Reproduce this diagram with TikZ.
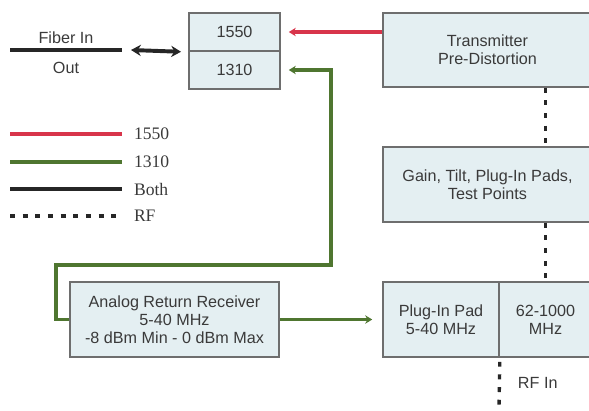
\documentclass[tikz,border=0pt]{standalone}
\usepackage{fontspec}
\setmainfont{Liberation Sans}
\newfontfamily\legendfont{Liberation Serif}
\usetikzlibrary{arrows.meta}
\definecolor{boxfill}{HTML}{E4EFF2}
\definecolor{boxline}{HTML}{6E6E6E}
\definecolor{txtgray}{HTML}{3A3A3A}
\definecolor{redline}{HTML}{D8354B}
\definecolor{grnline}{HTML}{4F7630}
\tikzset{
  blk/.style={draw=boxline,line width=1.1pt,fill=boxfill,text=txtgray,align=center,inner sep=1pt,font=\fontsize{11.5}{13}\selectfont},
  redln/.style={draw=redline,line width=2.5pt},
  grnln/.style={draw=grnline,line width=2.5pt},
  bothln/.style={draw=black!85,line width=2.5pt},
  rf/.style={draw=black!85,line width=2.4pt,dash pattern=on 3.5pt off 5.5pt},
  lbl/.style={text=txtgray,font=\fontsize{11.5}{13}\selectfont},
  leg/.style={text=txtgray,font=\legendfont\fontsize{12.5}{14}\selectfont,anchor=west}
}
\begin{document}
\begin{tikzpicture}[x=0.025cm,y=-0.025cm,>={Stealth[length=5pt,width=6pt]}]
\useasboundingbox (0,0) rectangle (589,410);
% boxes
\node[blk,minimum width=91*0.025cm,minimum height=38*0.025cm] (b1550) at (234.5,32) {1550};
\node[blk,minimum width=91*0.025cm,minimum height=38*0.025cm] (b1310) at (234.5,70) {1310};
\node[blk,minimum width=209*0.025cm,minimum height=74*0.025cm] (tx) at (487.5,50) {Transmitter\\Pre-Distortion};
\node[blk,minimum width=209*0.025cm,minimum height=75*0.025cm] (gain) at (487.5,184.5) {Gain, Tilt, Plug-In Pads,\\Test Points};
\node[blk,minimum width=209*0.025cm,minimum height=75*0.025cm] (rx) at (174.5,319.5) {Analog Return Receiver\\5-40 MHz\\-8 dBm Min - 0 dBm Max};
\node[blk,minimum width=116*0.025cm,minimum height=75*0.025cm] (pad) at (441,319.5) {Plug-In Pad\\5-40 MHz};
\node[blk,minimum width=93*0.025cm,minimum height=75*0.025cm] (hf) at (545.5,319.5) {62-1000\\MHz};
% fiber in/out
\coordinate (fa) at (10,50);
\coordinate (fb) at (122,50);
\coordinate (da) at (131,50);
\draw[bothln] (fa) -- (fb) node[lbl,midway,above=0pt] (fin) {Fiber In} node[lbl,midway,below=4pt] (fout) {Out};
\draw[bothln,line width=2.8pt,{Stealth[length=7pt,width=8pt]}-{Stealth[length=7pt,width=8pt]}] (da) -- ([xshift=-1.8mm]b1550.south west);
% optical links
\draw[redln,->] (tx.west |- b1550.east) -- ([xshift=2mm]b1550.east);
\draw[grnln,->] (rx.west) -- ++(-13,0) |- (331,265) |- ([xshift=2mm]b1310.east);
\draw[grnln,->] (rx.east) -- ([xshift=-2.5mm]pad.west);
% rf path
\draw[rf] (tx.south -| hf.north) -- (gain.north -| hf.north);
\draw[rf] (gain.south -| hf.north) -- (hf.north);
\coordinate (rfin) at (499,407);
\draw[rf] ([yshift=-1mm]pad.south east) -- (rfin);
\node[lbl,anchor=west] (rflbl) at (513,383) {RF In};
% legend
\coordinate (l1a) at (10,134); \coordinate (l1b) at (122,134);
\coordinate (l2a) at (10,162); \coordinate (l2b) at (122,162);
\coordinate (l3a) at (10,189); \coordinate (l3b) at (122,189);
\coordinate (l4a) at (10,216); \coordinate (l4b) at (122,216);
\draw[redln] (l1a) -- (l1b) node[leg,right=4pt] (k1) {1550};
\draw[grnln] (l2a) -- (l2b) node[leg,right=4pt] (k2) {1310};
\draw[bothln] (l3a) -- (l3b) node[leg,right=4pt] (k3) {Both};
\draw[rf] (l4a) -- (l4b) node[leg,right=4pt] (k4) {RF};
\end{tikzpicture}
\end{document}
